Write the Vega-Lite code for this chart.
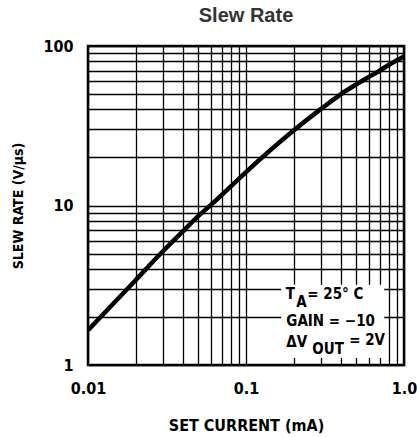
{
  "$schema": "https://vega.github.io/schema/vega-lite/v6.json",
  "width": 316,
  "height": 319,
  "autosize": {"type": "none"},
  "padding": {"left": 88, "top": 46, "right": 13, "bottom": 72},
  "background": "white",
  "title": {"text": "Slew Rate", "fontSize": 20, "font": "Liberation Sans", "fontWeight": "bold", "color": "#333333", "offset": 12, "anchor": "middle"},
  "view": {"stroke": "black", "strokeWidth": 2.5},
  "datasets": {
    "curve": [
      {"current": 0.01, "slew": 1.65},
      {"current": 0.02, "slew": 3.4},
      {"current": 0.03, "slew": 5.2},
      {"current": 0.04, "slew": 6.9},
      {"current": 0.05, "slew": 8.6},
      {"current": 0.06, "slew": 10.1},
      {"current": 0.07, "slew": 11.6},
      {"current": 0.1, "slew": 16.2},
      {"current": 0.2, "slew": 29.5},
      {"current": 0.3, "slew": 40.5},
      {"current": 0.4, "slew": 50},
      {"current": 0.5, "slew": 57.5},
      {"current": 0.6, "slew": 64},
      {"current": 0.7, "slew": 70},
      {"current": 0.8, "slew": 76},
      {"current": 1.0, "slew": 86}
    ],
    "box": [{"x1": 0.167, "x2": 0.75, "y1": 3.18, "y2": 1.107}],
    "notes": [
      {"t": "T", "x": 0.1786, "y": 2.78},
      {"t": "A", "x": 0.2083, "y": 2.47},
      {"t": "= 25° C", "x": 0.2443, "y": 2.78},
      {"t": "GAIN = −10", "x": 0.18, "y": 1.9},
      {"t": "ΔV", "x": 0.18, "y": 1.395},
      {"t": "OUT", "x": 0.263, "y": 1.26},
      {"t": "= 2V", "x": 0.45, "y": 1.436}
    ]
  },
  "layer": [
    {
      "data": {"name": "curve"},
      "mark": {"type": "line", "color": "black", "strokeWidth": 4.5, "interpolate": "monotone", "clip": true},
      "encoding": {
        "x": {
          "field": "current", "type": "quantitative",
          "scale": {"type": "log", "domain": [0.01, 1]},
          "axis": {
            "values": [0.01, 0.02, 0.03, 0.04, 0.05, 0.06, 0.07, 0.08, 0.09, 0.1, 0.2, 0.3, 0.4, 0.5, 0.6, 0.7, 0.8, 0.9, 1],
            "labelExpr": "datum.value == 1 ? '1.0' : (datum.value == 0.1 ? '0.1' : (datum.value == 0.01 ? '0.01' : ''))",
            "grid": true, "gridColor": "black", "gridWidth": 1.3, "gridOpacity": 1,
            "ticks": false, "domain": false,
            "labelFlush": false, "labelOverlap": false,
            "labelFont": "DejaVu Sans Condensed, Roboto, sans-serif", "labelFontSize": 16, "labelFontWeight": "bold", "labelColor": "black", "labelPadding": 15,
            "title": "SET CURRENT (mA)",
            "titleFont": "DejaVu Sans Condensed, Roboto, sans-serif", "titleFontSize": 16, "titleFontWeight": "bold", "titleColor": "black", "titlePadding": 21
          }
        },
        "y": {
          "field": "slew", "type": "quantitative",
          "scale": {"type": "log", "domain": [1, 100]},
          "axis": {
            "values": [1, 2, 3, 4, 5, 6, 7, 8, 9, 10, 20, 30, 40, 50, 60, 70, 80, 90, 100],
            "labelExpr": "datum.value == 1 ? '1' : (datum.value == 10 ? '10' : (datum.value == 100 ? '100' : ''))",
            "grid": true, "gridColor": "black", "gridWidth": 1.3, "gridOpacity": 1,
            "ticks": false, "domain": false,
            "labelFlush": false, "labelOverlap": false,
            "labelFont": "DejaVu Sans Condensed, Roboto, sans-serif", "labelFontSize": 16, "labelFontWeight": "bold", "labelColor": "black", "labelPadding": 15,
            "title": "SLEW RATE (V/μs)",
            "titleFont": "DejaVu Sans Condensed, Roboto, sans-serif", "titleFontSize": 14, "titleFontWeight": "bold", "titleColor": "black", "titlePadding": 17
          }
        }
      }
    },
    {
      "data": {"name": "box"},
      "mark": {"type": "rect", "fill": "white"},
      "encoding": {
        "x": {"field": "x1", "type": "quantitative"},
        "x2": {"field": "x2"},
        "y": {"field": "y1", "type": "quantitative"},
        "y2": {"field": "y2"}
      }
    },
    {
      "data": {"name": "notes"},
      "mark": {"type": "text", "align": "left", "baseline": "middle", "font": "DejaVu Sans Condensed, Roboto, sans-serif", "fontSize": 15, "fontWeight": "bold", "color": "black"},
      "encoding": {
        "x": {"field": "x", "type": "quantitative"},
        "y": {"field": "y", "type": "quantitative"},
        "text": {"field": "t"}
      }
    }
  ]
}
